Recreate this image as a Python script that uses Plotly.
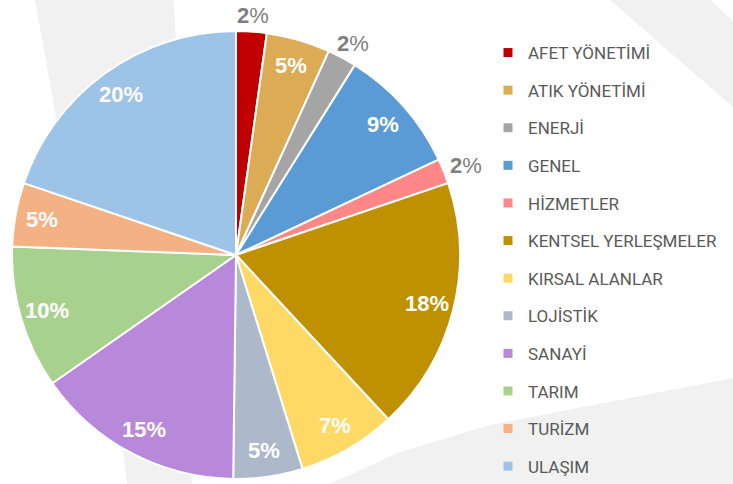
import math
import plotly.graph_objects as go

# ---------------- data ----------------
labels = ["AFET YÖNETİMİ", "ATIK YÖNETİMİ", "ENERJİ", "GENEL", "HİZMETLER",
          "KENTSEL YERLEŞMELER", "KIRSAL ALANLAR", "LOJİSTİK", "SANAYİ",
          "TARIM", "TURİZM", "ULAŞIM"]
values = [2.2, 4.6, 2.1, 9.1, 1.8, 18.3, 7.1, 5.0, 15.1, 10.3, 4.6, 19.8]
colors = ["#C00000", "#DBAB56", "#A5A5A5", "#5B9BD5", "#FF8787", "#BF9000",
          "#FFD966", "#ADB9CA", "#B888DB", "#A9D18E", "#F4B183", "#9DC3E6"]
outside = [True, False, True, False, True, False, False, False, False, False, False, False]

# ---------------- geometry ----------------
W, H = 733, 484
CX, CY, R = 236, 255, 224  # pie centre / radius in pixels

def px(x):
    return x / W

def py(y):
    return 1 - y / H

fig = go.Figure()

fig.add_trace(go.Pie(
    labels=labels, values=values, sort=False, direction="clockwise", rotation=0,
    marker=dict(colors=colors, line=dict(color="white", width=2)),
    textinfo="none", hoverinfo="label+percent", showlegend=False,
    domain=dict(x=[px(CX - R), px(CX + R)], y=[py(CY + R), py(CY - R)]),
))

# legend entries (one group each so the spacing can be set)
for lab, col in zip(labels, colors):
    fig.add_trace(go.Scatter(
        x=[None], y=[None], mode="markers", name=lab, legendgroup=lab,
        marker=dict(symbol="square", size=9, color=col), hoverinfo="skip",
    ))

# percentage labels derived from the values
total = sum(values)
cum = 0.0
annotations = []
for v, out in zip(values, outside):
    mid = (cum + v / 2) / total * 2 * math.pi
    cum += v
    pct = round(v / total * 100)
    s, c = math.sin(mid), math.cos(mid)
    if out:
        d = R + 9
        x = CX + d * s + 15 * s
        y = CY - d * c - 7 * c
        text = f"<b>{pct}</b>%"
        font = dict(family="Liberation Sans, Arial", size=22, color="#7F7F7F")
    else:
        d = R * 0.88
        x = CX + d * s
        y = CY - d * c
        text = f"<b>{pct}%</b>"
        font = dict(family="Liberation Sans, Arial", size=22, color="white")
    annotations.append(dict(x=px(x), y=py(y), xref="paper", yref="paper", text=text,
                            showarrow=False, font=font, xanchor="center", yanchor="middle"))

# faint background decoration
bg_polys = [
    [(35, 0), (174, 0), (185, 250), (80, 250)],
    [(610, 0), (710, 0), (733, 21), (733, 107)],
    [(120, 420), (190, 420), (192, 484), (127, 484)],
    [(330, 484), (400, 452), (490, 425), (733, 378), (733, 484)],
]
shapes = []
for poly in bg_polys:
    path = "M " + " L ".join(f"{px(x):.4f},{py(y):.4f}" for x, y in poly) + " Z"
    shapes.append(dict(type="path", path=path, xref="paper", yref="paper",
                       fillcolor="#F1F1F1", line=dict(width=0), layer="below"))

fig.update_layout(
    width=W, height=H, margin=dict(l=0, r=0, t=0, b=0),
    paper_bgcolor="white", plot_bgcolor="rgba(0,0,0,0)",
    xaxis=dict(visible=False), yaxis=dict(visible=False),
    showlegend=True,
    legend=dict(x=px(488), y=py(46), xanchor="left", yanchor="top",
                font=dict(family="Roboto", size=17, color="#595959"),
                tracegroupgap=12.5, itemwidth=30, bgcolor="rgba(0,0,0,0)"),
    annotations=annotations, shapes=shapes,
)

fig.write_html("out.html", config={"displayModeBar": False},
               post_script="document.body.style.margin='0';document.body.style.overflow='hidden';")
